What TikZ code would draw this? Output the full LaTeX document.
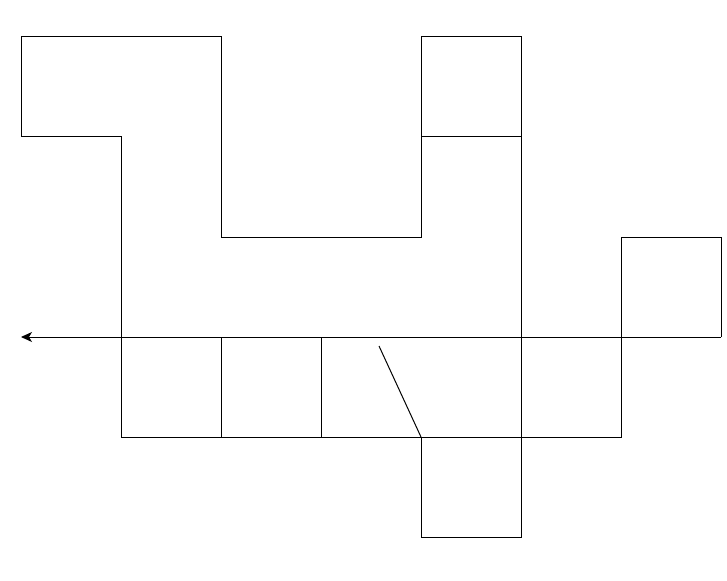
\documentclass[tikz,border=0pt]{standalone}
\usetikzlibrary{arrows.meta}
\begin{document}
\begin{tikzpicture}[x=1pt,y=-1pt,line width=1pt,
  wall/.style={draw=black,line join=miter},
  arrowline/.style={draw=black,-{Stealth[length=11pt,width=10pt,inset=3pt]}}]
\useasboundingbox (0,0) rectangle (727,580);
% upper outline
\draw[wall] (21,137) -- (21,37) -- (221,37) -- (221,237) -- (421,237) -- (421,37) -- (521,37) -- (521,537) -- (421,537) -- (421,437);
\draw[wall] (21,137) -- (121,137) -- (121,437) -- (621,437) -- (621,237) -- (721,237) -- (721,337);
\draw[wall] (421,137) -- (521,137);
\draw[wall] (221,337) -- (221,437);
\draw[wall] (321,337) -- (321,437);
% slanted line
\draw[wall] (379,346) -- (421,437);
% arrow
\draw[arrowline] (721,337) -- (21,337);
\end{tikzpicture}
\end{document}
